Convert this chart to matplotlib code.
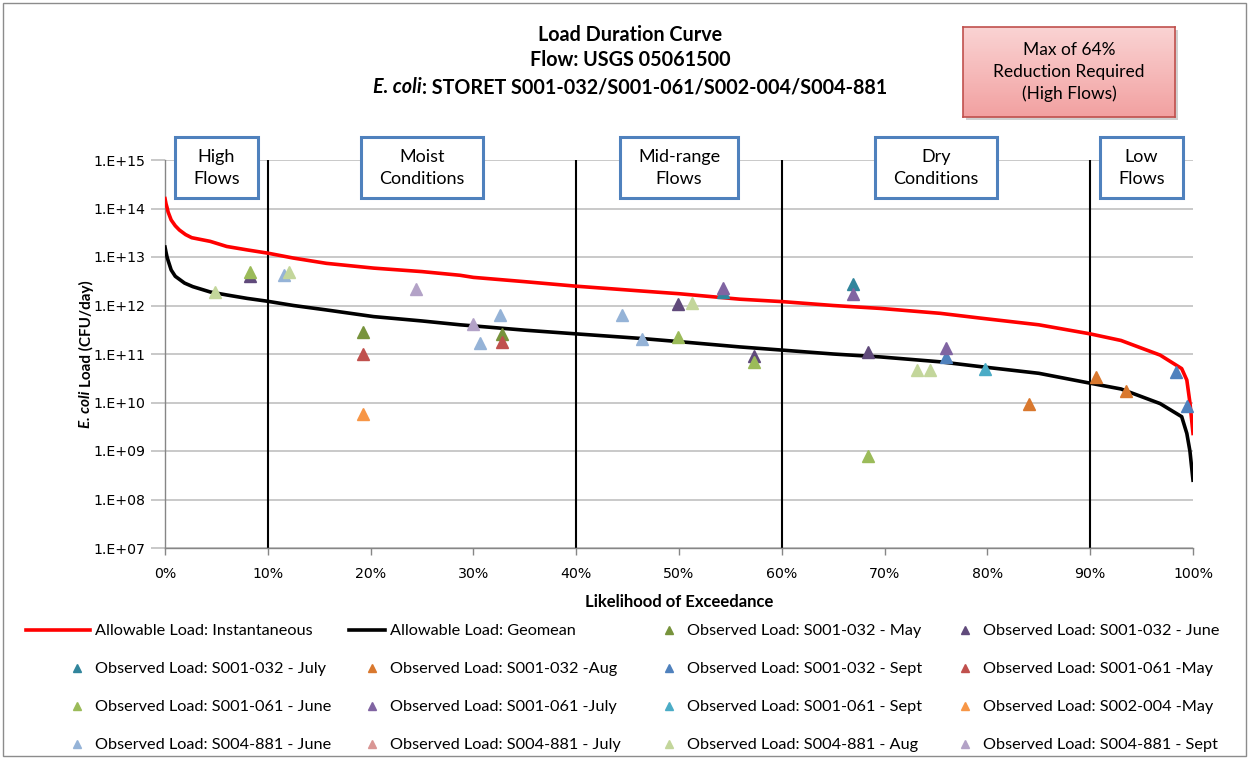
import numpy as np
import matplotlib
matplotlib.use("Agg")
import matplotlib.pyplot as plt
import matplotlib.transforms as mtransforms
from matplotlib.legend_handler import HandlerLine2D
from matplotlib.colors import LinearSegmentedColormap
from matplotlib.ticker import NullLocator
from matplotlib.path import Path

plt.rcParams['font.family'] = ['Lato', 'DejaVu Sans']

# ---- data ----
# exceedance (%) and allowable loads (CFU/day)
inst_pct = [0.0, 0.1, 0.2, 0.3, 0.6, 1.0, 1.4, 2.0, 2.6, 4.4, 6.0, 8.0, 10.0, 12.5, 15.7,
            20.3, 25.0, 28.7, 30.0, 35.0, 40.0, 46.2, 50.0, 55.9, 60.1, 65.0, 69.6, 75.4,
            79.3, 85.0, 90.0, 93.0, 96.8, 98.9, 99.4, 99.7, 100.0]
inst_load = [1.6e14, 1.25e14, 1.05e14, 8.5e13, 5.8e13, 4.4e13, 3.6e13, 2.9e13, 2.5e13,
             2.1e13, 1.65e13, 1.4e13, 1.2e13, 9.5e12, 7.4e12, 5.9e12, 5.0e12, 4.2e12,
             3.8e12, 3.1e12, 2.5e12, 2.0e12, 1.75e12, 1.35e12, 1.2e12, 1.0e12, 8.7e11,
             6.9e11, 5.5e11, 4.0e11, 2.6e11, 1.9e11, 9.5e10, 5.0e10, 2.9e10, 1.0e10, 2.3e9]

geo_pct = [0.0, 0.1, 0.2, 0.3, 0.6, 1.0, 1.9, 2.7, 4.4, 6.0, 8.0, 9.9, 12.5, 15.7, 20.3,
           25.0, 28.7, 30.0, 35.0, 40.0, 46.2, 50.0, 55.9, 60.1, 65.0, 69.6, 75.4, 79.3,
           85.0, 90.0, 93.0, 96.8, 98.9, 99.4, 99.7, 100.0]
geo_load = [1.6e13, 1.25e13, 1.0e13, 8.5e12, 5.4e12, 4.0e12, 2.9e12, 2.45e12, 1.9e12,
            1.65e12, 1.4e12, 1.23e12, 1.0e12, 8.1e11, 5.9e11, 4.8e11, 4.0e11, 3.8e11,
            3.1e11, 2.6e11, 2.1e11, 1.8e11, 1.4e11, 1.2e11, 1.0e11, 8.7e10, 6.9e10, 5.5e10,
            4.0e10, 2.5e10, 1.9e10, 9.5e9, 5.1e9, 2.3e9, 1.0e9, 2.5e8]

obs_labels = ['Observed Load: S001-032 - May', 'Observed Load: S001-032 - June',
              'Observed Load: S001-032 - July', 'Observed Load: S001-032 -Aug',
              'Observed Load: S001-032 - Sept', 'Observed Load: S001-061 -May',
              'Observed Load: S001-061 - June', 'Observed Load: S001-061 -July',
              'Observed Load: S001-061 - Sept', 'Observed Load: S002-004 -May',
              'Observed Load: S004-881 - June', 'Observed Load: S004-881 - July',
              'Observed Load: S004-881 - Aug', 'Observed Load: S004-881 - Sept']
obs_colors = ['#77933C', '#604A7B', '#31859C', '#D9782E', '#4F81BD', '#C0504D', '#9BBB59',
              '#8064A2', '#4BACC6', '#F79646', '#95B3D7', '#D99694', '#C3D69B', '#B3A2C7']
obs_pct = [
    [19.3, 32.8],
    [8.3, 49.9, 57.3, 68.4],
    [54.3, 66.9],
    [84.0, 90.6, 93.5],
    [76.0, 98.3, 99.4],
    [19.3, 32.8],
    [8.3, 49.9, 57.3, 68.4],
    [54.3, 66.9, 76.0],
    [79.8],
    [19.3],
    [11.6, 30.6, 32.6, 44.5, 46.4],
    [],
    [4.9, 12.1, 51.3, 73.2, 74.4],
    [24.4, 30.0],
]
obs_load = [
    [2.9e11, 2.6e11],
    [4.0e12, 1.05e12, 9.3e10, 1.1e11],
    [1.86e12, 2.75e12],
    [9.3e9, 3.4e10, 1.75e10],
    [8.7e10, 4.2e10, 8.3e9],
    [1.02e11, 1.8e11],
    [4.8e12, 2.2e11, 6.9e10, 7.9e8],
    [2.34e12, 1.74e12, 1.3e11],
    [4.9e10],
    [5.8e9],
    [4.2e12, 1.66e11, 6.5e11, 6.5e11, 2.0e11],
    [],
    [1.9e12, 5.0e12, 1.15e12, 4.6e10, 4.7e10],
    [2.24e12, 4.1e11],
]

regime_bounds = [10, 40, 60, 90]
regime_x = [5, 25, 50, 75, 95]
regime_labels = ['High\nFlows', 'Moist\nConditions', 'Mid-range\nFlows', 'Dry\nConditions', 'Low\nFlows']

x_ticks = [0, 10, 20, 30, 40, 50, 60, 70, 80, 90, 100]
x_tick_labels = ['0%', '10%', '20%', '30%', '40%', '50%', '60%', '70%', '80%', '90%', '100%']
y_ticks = [1e7, 1e8, 1e9, 1e10, 1e11, 1e12, 1e13, 1e14, 1e15]
y_tick_labels = ['1.E+07', '1.E+08', '1.E+09', '1.E+10', '1.E+11', '1.E+12', '1.E+13',
                 '1.E+14', '1.E+15']

W, H = 1249, 759
fig = plt.figure(figsize=(W / 100, H / 100), dpi=100, facecolor='white')
ax = fig.add_axes([165 / W, 1 - 548 / H, (1193 - 165) / W, (548 - 160) / H])

ax.set_yscale('log')
ax.set_xlim(0, 100)
ax.set_ylim(1e7, 1e15)
ax.set_xticks(x_ticks)
ax.set_xticklabels(x_tick_labels, fontsize=10.2, family='DejaVu Sans')
ax.set_yticks(y_ticks)
ax.set_yticklabels(y_tick_labels, fontsize=10.2, family='DejaVu Sans')
ax.yaxis.set_minor_locator(NullLocator())
ax.tick_params(axis='x', direction='out', length=5, color='#868686', width=1, pad=9)
ax.tick_params(axis='y', direction='out', length=10, color='#BFBFBF', width=1.2, pad=4)
ax.grid(axis='y', color='#C0C0C0', lw=1.2, zorder=0)
ax.set_axisbelow(True)
for s in ['top', 'right']:
    ax.spines[s].set_visible(False)
for s in ['left', 'bottom']:
    ax.spines[s].set_color('#868686')
    ax.spines[s].set_linewidth(1)

for b in regime_bounds:
    ax.axvline(b, color='black', lw=1.5, zorder=2)

l_inst, = ax.plot(inst_pct, inst_load, color='#FF0000', lw=2.6, zorder=3,
                  label='Allowable Load: Instantaneous')
l_geo, = ax.plot(geo_pct, geo_load, color='black', lw=2.6, zorder=3,
                 label='Allowable Load: Geomean')

obs_handles = []
for xs, ys, c, lab in zip(obs_pct, obs_load, obs_colors, obs_labels):
    h, = ax.plot(xs, ys, ls='none', marker='^', ms=8, color=c, mec=c, zorder=4, label=lab)
    obs_handles.append(h)


# regime boxes: wider side padding than top/bottom
def wide_box(x0, y0, width, height, mutation_size):
    px, py = 1.0 * mutation_size, 0.65 * mutation_size
    x0, y0 = x0 - px, y0 - py
    x1, y1 = x0 + width + 2 * px, y0 + height + 2 * py
    return Path([(x0, y0), (x1, y0), (x1, y1), (x0, y1), (x0, y0)],
                [Path.MOVETO, Path.LINETO, Path.LINETO, Path.LINETO, Path.CLOSEPOLY])


trans = mtransforms.blended_transform_factory(ax.transData, ax.transAxes)
for xc, lab in zip(regime_x, regime_labels):
    ax.text(xc, 0.98, lab, transform=trans, ha='center', va='center', fontsize=13,
            linespacing=1.45, zorder=6, clip_on=False,
            bbox=dict(boxstyle=wide_box, fc='white', ec='#4F81BD', lw=2.2))

ax.set_xlabel('Likelihood of Exceedance', fontsize=12, fontweight='bold', labelpad=9)

# titles
fig.text(630 / W, 1 - 35 / H, 'Load Duration Curve', ha='center', va='center',
         fontsize=14.2, fontweight='bold')
fig.text(630 / W, 1 - 60 / H, 'Flow: USGS 05061500', ha='center', va='center',
         fontsize=14.2, fontweight='bold')
t1 = fig.text(0, 1 - 87 / H, 'E. coli', ha='left', va='center', fontsize=14.2,
              fontweight='bold', style='italic')
t2 = fig.text(0, 1 - 87 / H, ': STORET S001-032/S001-061/S002-004/S004-881', ha='left',
              va='center', fontsize=14.2, fontweight='bold')

# y label in two pieces
y1 = fig.text(86 / W, 0, 'E. coli', rotation=90, ha='center', va='bottom', fontsize=11,
              fontweight='bold', style='italic')
y2 = fig.text(86 / W, 0, 'Load (CFU/day)', rotation=90, ha='center', va='bottom',
              fontsize=11, fontweight='bold')

fig.canvas.draw()
r = fig.canvas.get_renderer()
w1 = t1.get_window_extent(r).width
w2 = t2.get_window_extent(r).width
x0 = 630 - (w1 + w2) / 2
t1.set_x(x0 / W)
t2.set_x((x0 + w1) / W)
h1 = y1.get_window_extent(r).height
h2 = y2.get_window_extent(r).height
gap = 4
ystart = (H - 354) - (h1 + h2 + gap) / 2
y1.set_y(ystart / H)
y2.set_y((ystart + h1 + gap) / H)

# reduction box with light red gradient and a soft shadow behind it
fig.add_artist(plt.Rectangle((966 / W, 1 - 120 / H), 212 / W, 90 / H,
                             transform=fig.transFigure, fc='#D0D0D0', ec='none',
                             zorder=-5))
bx = fig.add_axes([963 / W, 1 - 117 / H, 212 / W, 90 / H])
cmap = LinearSegmentedColormap.from_list('pinkgrad', ['#FAD3D3', '#F2A1A1'])
bx.imshow(np.linspace(0, 1, 64).reshape(-1, 1), aspect='auto', cmap=cmap,
          extent=[0, 1, 0, 1], origin='upper')
bx.set_xticks([])
bx.set_yticks([])
for s in bx.spines.values():
    s.set_color('#C0504D')
    s.set_linewidth(1.2)
bx.text(0.5, 0.5, 'Max of 64%\nReduction Required\n(High Flows)', ha='center', va='center',
        fontsize=12.5, linespacing=1.4, transform=bx.transAxes)


# legend line handles stick out to the left like the Excel legend
class LongLine(HandlerLine2D):
    def __init__(self, extra, **kw):
        super().__init__(**kw)
        self.extra = extra

    def create_artists(self, legend, orig_handle, xdescent, ydescent, width, height,
                       fontsize, trans):
        arts = super().create_artists(legend, orig_handle, xdescent, ydescent, width,
                                      height, fontsize, trans)
        for a in arts:
            xd = np.array(a.get_xdata(), dtype=float)
            if len(xd) >= 2:
                xd[0] -= self.extra
                a.set_xdata(xd)
        return arts


entries = [l_inst, l_geo] + obs_handles
col_text_x = [95, 390, 687, 983]
hl, tp, fs = 1.5, 0.33, 11.7
for c in range(4):
    hs = [entries[r * 4 + c] for r in range(4)]
    pad_px = (hl + tp) * fs * 100 / 72
    leg = fig.legend(handles=hs, labels=[h.get_label() for h in hs], loc='upper left',
                     bbox_to_anchor=((col_text_x[c] - pad_px) / W, 1 - 624 / H),
                     ncol=1, frameon=False, fontsize=fs, handlelength=hl, handletextpad=tp,
                     borderpad=0, borderaxespad=0, labelspacing=1.45, numpoints=1,
                     markerscale=0.75,
                     handler_map={l_inst: LongLine(28), l_geo: LongLine(8)})
    for ln in leg.get_lines():
        if ln.get_linestyle() != 'None':
            ln.set_linewidth(2.6)

fig.add_artist(plt.Rectangle((3 / W, 3 / H), (W - 6) / W, (H - 6) / H,
                             transform=fig.transFigure, fill=False, ec='#8C8C8C', lw=1))

fig.savefig('out.png', dpi=100, facecolor='white')
